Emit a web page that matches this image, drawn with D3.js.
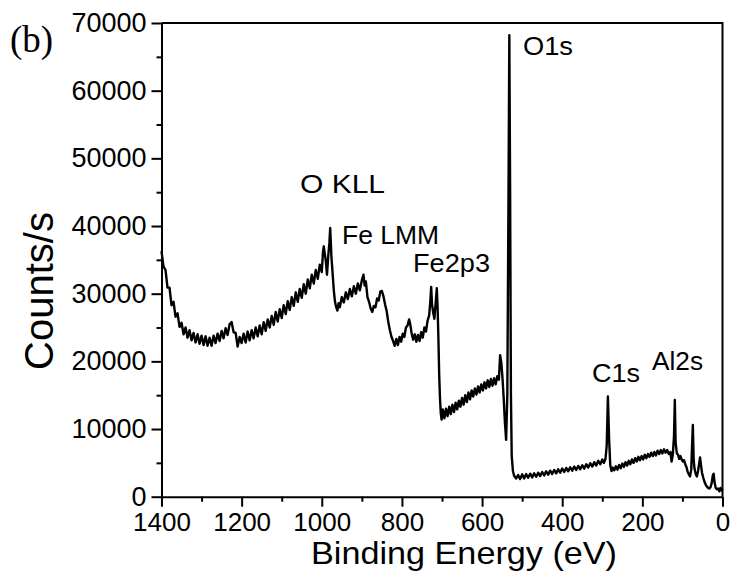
<!DOCTYPE html>
<html>
<head>
<meta charset="utf-8">
<script src="https://cdn.jsdelivr.net/npm/d3@7"></script>
<style>
  body { margin: 0; background: #fff; }
  svg { display: block; font-family: "Liberation Sans", Arial, sans-serif; }
  .axis path, .axis line { stroke: #000; stroke-width: 2; }
  .axis text { fill: #000; }
</style>
</head>
<body>
<script>
// survey spectrum (binding energy in eV, counts/s)
const energy = [
  1400,1395,1390,1385,1380,1375,1370,1365,1360,1355,1350,1345,1340,1335,1330,1325,1320,1315,1310,1305,1300,
  1295,1290,1285,1280,1275,1270,1265,1260,1255,1250,1245,1240,1235,1230,1225,1220,1215,1210,1205,1200,
  1195,1190,1185,1180,1175,1170,1165,1160,1155,1150,1145,1140,1135,1130,1125,1120,1115,1110,1105,1100,
  1095,1090,1085,1080,1075,1070,1065,1060,1055,1050,1045,1040,1035,1030,1025,1020,1015,1010,1005,1000,
  997,995,990,987,984,981,979,976,973,970,967,964,961,958,955,950,945,940,935,930,925,920,915,910,905,900,
  896,893,890,886,882,878,874,870,866,862,858,854,850,846,842,838,834,830,826,822,818,814,810,806,802,
  798,794,790,786,782,779,776,772,768,764,760,756,752,748,744,740,736,732,729,727,725,722,719,716,713,711,
  709,707,705,703,701,
  698,694,690,686,682,678,674,670,666,662,658,654,650,646,642,638,634,630,626,622,618,614,610,606,602,
  598,594,590,586,582,578,574,570,566,562,558,555,552,549,546,543,540,537,534,532,530,528,526,523,520,
  515,510,505,500,495,490,485,480,475,470,465,460,455,450,445,440,435,430,425,420,415,410,405,400,
  395,390,385,380,375,370,365,360,355,350,345,340,335,330,325,320,315,310,305,300,
  296,292,289,286,283,280,277,274,270,266,262,258,254,250,246,242,238,234,230,226,222,218,214,210,206,202,
  198,194,190,186,182,178,174,170,166,162,158,154,150,146,142,138,134,130,127,124,121,119,117,114,111,108,
  105,102,99,96,93,90,87,84,81,78,76,74,72,70,67,64,61,58,56,54,51,48,45,42,39,36,33,30,27,24,22,20,
  17,14,11,8,5,2,0
];
const counts = [
  36300,34000,33500,30900,30900,28300,28800,26600,27100,25100,25700,24000,25000,23500,24600,23100,24200,22800,24000,22600,23800,
  22400,23700,22300,23500,22300,23800,22700,24100,23000,24500,23400,24900,23900,25500,25800,24300,24200,22200,23600,22700,
  24100,22800,24400,23100,24600,23400,25000,23700,25300,24000,25800,24500,26200,25000,26700,25400,27300,25900,27700,26400,
  28300,27000,28900,27600,29500,28200,30200,28800,30700,29400,31400,30000,32100,30800,32800,31500,33500,32200,34300,33200,
  36200,37000,34800,32800,35500,37500,39700,35500,33000,30500,28800,28000,27500,28600,28000,29500,28700,30200,29200,30700,29600,31100,30000,31500,30500,32000,
  32800,31200,31800,29500,28800,27800,27300,28200,28000,29300,29000,30300,30400,29600,28400,27400,25800,24600,23600,23000,22300,23300,22400,23600,22900,
  24100,23600,25000,25300,26200,25400,24200,23200,24000,22900,23900,23000,24300,23500,25000,24400,26000,26800,29000,31000,28500,27200,26300,28500,30800,28000,
  23500,18000,14500,12300,11400,
  12900,11600,13000,11900,13300,12200,13600,12500,13900,12900,14200,13300,14600,13600,15000,14000,15400,14400,15700,14800,16000,15100,16300,15400,16600,
  15700,16900,16000,17200,16200,17400,16400,17500,16600,17800,17300,20900,19800,17500,14500,11000,8400,15000,45000,68200,45000,15000,6000,3800,3100,
  2700,3200,2600,3300,2700,3350,2800,3400,2850,3450,2950,3550,3050,3650,3150,3750,3250,3850,3350,3950,3450,4050,3550,4150,
  3650,4250,3750,4350,3850,4450,3950,4550,4050,4650,4150,4800,4300,4950,4450,5100,4600,5300,4800,5500,
  5000,5600,7500,14800,8500,4600,3800,4300,3900,4500,4000,4700,4200,4900,4400,5100,4600,5300,4800,5500,5000,5700,5200,5900,5400,6000,
  5500,6200,5700,6300,5900,6500,6000,6600,6100,6800,6300,6900,6400,7000,6500,6900,6300,6600,5200,6200,9000,14300,8000,6400,6200,5600,
  6000,5500,5200,5400,4800,4400,3700,3300,3000,4000,7500,10600,5500,4200,3400,3000,3800,5000,5800,4800,3500,2800,2200,1800,1500,1300,1200,1400,2000,3200,3400,2200,
  1300,1100,1200,800,1300,900,1200
];

const xMajor = [1400, 1200, 1000, 800, 600, 400, 200, 0];
const xMinor = [1300, 1100, 900, 700, 500, 300, 100];
const yMajor = [0, 10000, 20000, 30000, 40000, 50000, 60000, 70000];
const yMinor = [5000, 15000, 25000, 35000, 45000, 55000, 65000];

const peakLabels = ["O KLL", "Fe LMM", "Fe2p3", "O1s", "C1s", "Al2s"];
const peakLabelPos = [[300, 193], [342, 244], [413, 272], [523, 55], [592, 382], [652, 370]];
const peakLabelWidth = [85, 97, 77, 50, 48, 51];

const W = 732, H = 571;
const plotL = 161.5, plotR = 722.5, plotT = 23, plotB = 496.7;

const svg = d3.select("body").append("svg").attr("width", W).attr("height", H);

const x = d3.scaleLinear().domain([1400, 0]).range([plotL, plotR]);
const y = d3.scaleLinear().domain([0, 70000]).range([plotB, plotT]);

// frame (top + right)
svg.append("path")
  .attr("d", `M${plotL},${plotT}H${plotR}V${plotB}`)
  .attr("fill", "none")
  .attr("stroke", "#000")
  .attr("stroke-width", 2);

// x axis
const gx = svg.append("g")
  .attr("class", "axis")
  .attr("transform", `translate(0,${plotB})`)
  .call(d3.axisBottom(x).tickValues(xMajor).tickSize(10).tickPadding(5).tickSizeOuter(0).tickFormat(d3.format("d")));
gx.selectAll("text").attr("font-size", 26).attr("dy", "0.74em");
svg.append("g")
  .attr("class", "axis")
  .attr("transform", `translate(0,${plotB})`)
  .call(d3.axisBottom(x).tickValues(xMinor).tickSize(5).tickFormat("").tickSizeOuter(0))
  .select(".domain").remove();

// y axis
const gy = svg.append("g")
  .attr("class", "axis")
  .attr("transform", `translate(${plotL},0)`)
  .call(d3.axisLeft(y).tickValues(yMajor).tickSize(10).tickPadding(5).tickSizeOuter(0).tickFormat(d3.format("d")));
gy.selectAll("text").attr("font-size", 27);
svg.append("g")
  .attr("class", "axis")
  .attr("transform", `translate(${plotL},0)`)
  .call(d3.axisLeft(y).tickValues(yMinor).tickSize(5).tickFormat("").tickSizeOuter(0))
  .select(".domain").remove();

// spectrum
const line = d3.line()
  .x((d, i) => x(energy[i]))
  .y(d => y(d));

svg.append("path")
  .datum(counts)
  .attr("d", line)
  .attr("fill", "none")
  .attr("stroke", "#000")
  .attr("stroke-width", 2.4)
  .attr("stroke-linejoin", "round");

// peak labels
svg.selectAll(".peak")
  .data(peakLabels)
  .enter()
  .append("text")
  .attr("class", "peak")
  .attr("x", (d, i) => peakLabelPos[i][0])
  .attr("y", (d, i) => peakLabelPos[i][1])
  .attr("font-size", 26)
  .attr("textLength", (d, i) => peakLabelWidth[i])
  .attr("lengthAdjust", "spacingAndGlyphs")
  .text(d => d);

// axis titles
svg.append("text")
  .attr("x", 311)
  .attr("y", 564)
  .attr("font-size", 32)
  .attr("textLength", 306)
  .attr("lengthAdjust", "spacingAndGlyphs")
  .text("Binding Energy (eV)");

svg.append("text")
  .attr("transform", "translate(53,291) rotate(-90)")
  .attr("text-anchor", "middle")
  .attr("font-size", 40)
  .text("Counts/s");

svg.append("text")
  .attr("x", 10)
  .attr("y", 52)
  .attr("font-family", "'Liberation Serif', 'Times New Roman', serif")
  .attr("font-size", 37)
  .text("(b)");
</script>
</body>
</html>
